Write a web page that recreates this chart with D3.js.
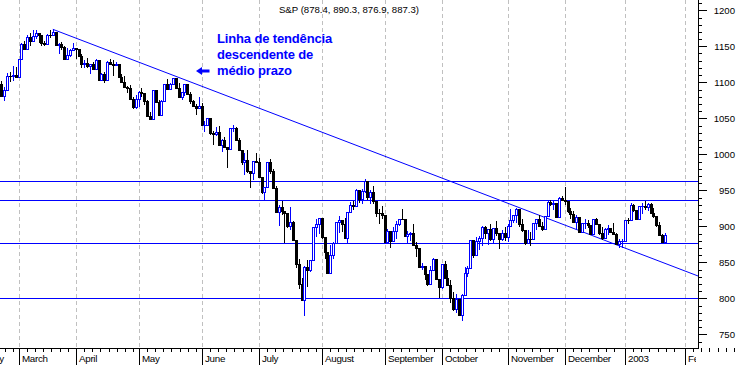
<!DOCTYPE html>
<html><head><meta charset="utf-8">
<script src="https://cdn.jsdelivr.net/npm/d3@7"></script>
<style>
body{margin:0;background:#fff}
svg{display:block;font-family:Arial,"Liberation Sans",sans-serif}
</style>
</head><body>
<svg id="chart" width="738" height="365"></svg>
<script>
// ---------- DATA ----------
const dates = [
"2002-02-21","2002-02-22","2002-02-25","2002-02-26","2002-02-27","2002-02-28",
"2002-03-01","2002-03-04","2002-03-05","2002-03-06","2002-03-07","2002-03-08","2002-03-11","2002-03-12","2002-03-13","2002-03-14","2002-03-15","2002-03-18","2002-03-19","2002-03-20","2002-03-21","2002-03-22","2002-03-25","2002-03-26","2002-03-27","2002-03-28",
"2002-04-01","2002-04-02","2002-04-03","2002-04-04","2002-04-05","2002-04-08","2002-04-09","2002-04-10","2002-04-11","2002-04-12","2002-04-15","2002-04-16","2002-04-17","2002-04-18","2002-04-19","2002-04-22","2002-04-23","2002-04-24","2002-04-25","2002-04-26","2002-04-29","2002-04-30",
"2002-05-01","2002-05-02","2002-05-03","2002-05-06","2002-05-07","2002-05-08","2002-05-09","2002-05-10","2002-05-13","2002-05-14","2002-05-15","2002-05-16","2002-05-17","2002-05-20","2002-05-21","2002-05-22","2002-05-23","2002-05-24","2002-05-28","2002-05-29","2002-05-30","2002-05-31",
"2002-06-03","2002-06-04","2002-06-05","2002-06-06","2002-06-07","2002-06-10","2002-06-11","2002-06-12","2002-06-13","2002-06-14","2002-06-17","2002-06-18","2002-06-19","2002-06-20","2002-06-21","2002-06-24","2002-06-25","2002-06-26","2002-06-27","2002-06-28",
"2002-07-01","2002-07-02","2002-07-03","2002-07-05","2002-07-08","2002-07-09","2002-07-10","2002-07-11","2002-07-12","2002-07-15","2002-07-16","2002-07-17","2002-07-18","2002-07-19","2002-07-22","2002-07-23","2002-07-24","2002-07-25","2002-07-26","2002-07-29","2002-07-30","2002-07-31",
"2002-08-01","2002-08-02","2002-08-05","2002-08-06","2002-08-07","2002-08-08","2002-08-09","2002-08-12","2002-08-13","2002-08-14","2002-08-15","2002-08-16","2002-08-19","2002-08-20","2002-08-21","2002-08-22","2002-08-23","2002-08-26","2002-08-27","2002-08-28","2002-08-29","2002-08-30",
"2002-09-03","2002-09-04","2002-09-05","2002-09-06","2002-09-09","2002-09-10","2002-09-11","2002-09-12","2002-09-13","2002-09-16","2002-09-17","2002-09-18","2002-09-19","2002-09-20","2002-09-23","2002-09-24","2002-09-25","2002-09-26","2002-09-27","2002-09-30",
"2002-10-01","2002-10-02","2002-10-03","2002-10-04","2002-10-07","2002-10-08","2002-10-09","2002-10-10","2002-10-11","2002-10-14","2002-10-15","2002-10-16","2002-10-17","2002-10-18","2002-10-21","2002-10-22","2002-10-23","2002-10-24","2002-10-25","2002-10-28","2002-10-29","2002-10-30","2002-10-31",
"2002-11-01","2002-11-04","2002-11-05","2002-11-06","2002-11-07","2002-11-08","2002-11-11","2002-11-12","2002-11-13","2002-11-14","2002-11-15","2002-11-18","2002-11-19","2002-11-20","2002-11-21","2002-11-22","2002-11-25","2002-11-26","2002-11-27","2002-11-29",
"2002-12-02","2002-12-03","2002-12-04","2002-12-05","2002-12-06","2002-12-09","2002-12-10","2002-12-11","2002-12-12","2002-12-13","2002-12-16","2002-12-17","2002-12-18","2002-12-19","2002-12-20","2002-12-23","2002-12-24","2002-12-26","2002-12-27","2002-12-30","2002-12-31",
"2003-01-02","2003-01-03","2003-01-06","2003-01-07","2003-01-08","2003-01-09","2003-01-10","2003-01-13","2003-01-14","2003-01-15","2003-01-16","2003-01-17","2003-01-21","2003-01-22","2003-01-23"
];
const openV = [
1097.98,1080.95,1089.84,1109.43,1109.38,1109.89,
1106.73,1131.78,1153.84,1146.14,1162.77,1157.54,1164.31,1168.26,1165.58,1154.09,1153.04,1166.16,1165.55,1170.29,1151.85,1153.59,1148.70,1131.87,1138.49,1144.58,
1147.39,1146.54,1136.76,1125.40,1126.34,1122.73,1125.29,1117.80,1130.47,1103.69,1111.01,1102.55,1128.37,1126.07,1124.47,1125.17,1107.83,1100.96,1093.14,1091.48,1076.32,1065.45,
1076.92,1086.46,1084.56,1073.43,1052.67,1049.49,1088.85,1073.01,1054.99,1074.56,1097.28,1091.07,1098.23,1106.59,1091.88,1079.88,1086.02,1097.08,1083.82,1074.55,1067.66,1064.66,
1067.14,1040.68,1040.69,1049.90,1029.15,1027.53,1030.74,1013.60,1020.26,1009.56,1007.27,1036.17,1037.14,1019.99,1006.29,989.14,992.72,976.14,973.53,990.64,
989.82,968.65,948.09,953.99,989.03,976.98,952.83,920.47,927.37,921.39,917.93,900.94,906.04,881.56,847.75,819.85,797.70,843.43,838.68,852.84,898.96,902.78,
911.62,884.66,864.24,834.60,859.57,876.77,905.46,908.64,903.80,884.21,919.62,930.25,928.77,950.70,937.43,949.36,962.70,940.86,947.95,934.82,917.87,917.80,
916.07,878.02,893.40,879.15,893.92,902.96,909.58,909.45,886.91,889.81,891.10,873.52,869.46,843.32,845.39,833.70,819.29,839.66,854.95,827.37,
815.28,847.91,827.91,818.95,800.58,785.28,798.55,776.76,803.92,835.32,841.44,881.27,860.02,879.20,884.39,899.72,890.16,896.14,882.50,897.65,890.23,882.15,890.71,
885.76,900.96,908.35,915.39,923.76,902.65,894.74,876.19,882.95,882.53,904.27,909.83,900.36,896.74,914.15,933.76,930.55,932.87,913.31,938.87,
936.31,934.53,920.75,917.58,906.55,912.23,892.00,904.45,904.96,901.58,889.48,910.40,902.99,891.12,884.25,895.76,897.38,892.47,889.66,875.40,879.39,
879.82,909.03,908.59,929.01,922.93,909.93,927.57,927.57,926.26,931.66,918.22,914.60,901.78,887.62,878.4
];
const highV = [
1101.5,1093.9,1112.7,1115.0,1123.1,1121.6,
1131.8,1153.9,1157.7,1165.3,1167.9,1172.8,1173.0,1168.3,1165.6,1157.8,1166.5,1172.7,1173.9,1170.3,1155.1,1156.5,1151.0,1147.0,1146.9,1154.5,
1147.8,1146.5,1138.9,1130.5,1133.3,1125.4,1128.3,1131.8,1130.5,1112.8,1114.9,1129.4,1133.0,1130.5,1128.8,1125.2,1111.2,1108.5,1094.4,1096.8,1078.9,1082.6,
1088.3,1091.4,1084.6,1075.9,1058.7,1088.9,1088.9,1075.4,1074.8,1097.7,1104.2,1099.3,1106.6,1106.6,1099.5,1086.1,1097.1,1097.1,1085.9,1074.8,1069.5,1079.9,
1070.7,1046.1,1050.1,1049.9,1033.0,1038.2,1039.0,1021.9,1023.5,1009.6,1036.2,1040.8,1037.6,1023.3,1006.3,1002.1,1005.9,977.4,990.7,1001.8,
994.5,968.7,954.3,989.1,993.6,979.6,956.3,929.2,934.9,921.4,918.7,926.5,907.8,881.6,854.1,827.7,844.3,853.8,852.9,899.0,909.8,911.7,
911.7,884.7,864.3,874.4,878.7,905.8,913.9,908.7,911.7,920.2,933.3,935.4,951.2,950.7,951.2,965.0,962.7,950.8,955.8,934.9,924.6,928.2,
916.1,896.1,893.4,899.1,907.3,909.9,924.0,909.5,892.8,891.8,902.7,878.5,869.5,849.3,845.4,833.7,844.2,856.6,855.0,827.4,
848.0,851.9,840.0,825.9,808.2,806.5,798.6,806.5,843.3,844.4,881.3,881.3,885.4,886.7,900.7,899.8,896.3,902.9,897.7,907.4,890.6,895.3,898.8,
903.4,924.6,915.8,925.7,923.8,910.1,894.8,894.3,892.5,904.3,910.1,915.9,905.5,915.0,935.1,937.2,937.2,932.9,940.4,941.8,
954.3,934.6,925.3,921.5,915.5,912.3,905.0,909.9,908.4,901.6,910.4,911.2,903.0,899.2,897.8,902.4,897.4,903.9,890.5,882.1,881.9,
909.1,911.3,931.8,930.8,923.0,928.3,932.9,935.0,931.7,932.6,926.0,914.6,906.0,889.7,890.3
];
const lowV = [
1080.2,1074.4,1089.8,1101.0,1102.3,1106.7,
1106.7,1130.9,1144.8,1145.1,1150.7,1157.5,1159.6,1155.0,1151.0,1151.0,1153.0,1161.3,1165.5,1151.6,1139.5,1144.6,1131.8,1131.6,1135.3,1144.5,
1132.9,1135.7,1119.7,1120.1,1119.5,1111.8,1116.7,1117.8,1102.4,1103.6,1099.4,1102.5,1123.4,1109.3,1122.6,1105.6,1098.9,1092.5,1084.8,1076.3,1063.6,1063.5,
1065.3,1079.5,1068.5,1052.6,1048.9,1049.4,1072.2,1053.9,1053.9,1074.5,1088.9,1089.2,1096.8,1090.6,1079.1,1075.6,1080.6,1082.2,1070.3,1067.6,1054.3,1064.6,
1039.9,1030.5,1038.8,1026.9,1012.5,1025.5,1011.6,1002.6,1008.1,981.6,1007.2,1030.9,1017.9,1004.6,985.7,970.9,974.2,952.9,963.7,988.3,
967.4,945.5,934.9,953.9,972.9,951.7,920.3,900.9,915.9,876.5,897.1,895.0,880.6,842.1,813.3,796.1,775.7,816.1,835.9,852.7,884.7,889.9,
882.5,853.9,833.4,834.6,854.1,875.2,890.8,892.4,883.6,876.2,918.2,922.0,928.7,931.9,931.4,946.4,937.2,930.4,930.4,913.2,903.3,910.2,
877.5,875.7,870.5,879.1,882.9,900.5,908.5,884.8,877.0,879.3,872.4,857.4,843.1,839.1,825.8,817.4,818.5,839.6,826.8,800.2,
812.8,826.3,817.3,794.1,782.9,779.8,775.8,768.6,803.9,828.9,841.4,856.3,860.0,866.6,873.1,882.4,873.8,879.0,877.0,886.2,867.9,879.2,879.8,
877.7,900.9,904.9,905.0,898.7,891.6,874.6,876.1,872.1,882.5,895.4,899.5,893.1,894.9,914.1,928.4,923.3,912.1,913.3,935.6,
929.5,918.7,909.5,905.9,895.9,891.9,892.0,896.5,897.0,887.8,889.4,901.7,887.8,880.3,884.2,887.5,892.3,887.5,873.6,870.2,869.5,
879.8,903.1,908.5,919.9,908.3,909.9,917.7,922.1,921.7,916.7,911.9,899.0,887.6,877.6,876.9
];
const closeV = [
1080.95,1089.84,1109.43,1109.38,1109.89,1106.73,
1131.78,1153.84,1146.14,1162.77,1157.54,1164.31,1168.26,1165.58,1154.09,1153.04,1166.16,1165.55,1170.29,1151.85,1153.59,1148.70,1131.87,1138.49,1144.58,1147.39,
1146.54,1136.76,1125.40,1126.34,1122.73,1125.29,1117.80,1130.47,1103.69,1111.01,1102.55,1128.37,1126.07,1124.47,1125.17,1107.83,1100.96,1093.14,1091.48,1076.32,1065.45,1076.92,
1086.46,1084.56,1073.43,1052.67,1049.49,1088.85,1073.01,1054.99,1074.56,1097.28,1091.07,1098.23,1106.59,1091.88,1079.88,1086.02,1097.08,1083.82,1074.55,1067.66,1064.66,1067.14,
1040.68,1040.69,1049.90,1029.15,1027.53,1030.74,1013.60,1020.26,1009.56,1007.27,1036.17,1037.14,1019.99,1006.29,989.14,992.72,976.14,973.53,990.64,989.82,
968.65,948.09,953.99,989.03,976.98,952.83,920.47,927.37,921.39,917.93,900.94,906.04,881.56,847.75,819.85,797.70,843.43,838.68,852.84,898.96,902.78,911.62,
884.66,864.24,834.60,859.57,876.77,905.46,908.64,903.80,884.21,919.62,930.25,928.77,950.70,937.43,949.36,962.70,940.86,947.95,934.82,917.87,917.80,916.07,
878.02,893.40,879.15,893.92,902.96,909.58,909.45,886.91,889.81,891.10,873.52,869.46,843.32,845.39,833.70,819.29,839.66,854.95,827.37,815.28,
847.91,827.91,818.95,800.58,785.28,798.55,776.76,803.92,835.32,841.44,881.27,860.02,879.20,884.39,899.72,890.16,896.14,882.50,897.65,890.23,882.15,890.71,885.76,
900.96,908.35,915.39,923.76,902.65,894.74,876.19,882.95,882.53,904.27,909.83,900.36,896.74,914.15,933.76,930.55,932.87,913.31,938.87,936.31,
934.53,920.75,917.58,906.55,912.23,892.00,904.45,904.96,901.58,889.48,910.40,902.99,891.12,884.25,895.76,897.38,892.47,889.66,875.40,879.39,879.82,
909.03,908.59,929.01,922.93,909.93,927.57,927.57,926.26,931.66,918.22,914.60,901.78,887.62,878.36,887.3
];

// month axis (trading-day index of each month's first session)
const monthLabels = ["February","March","April","May","June","July","August","September","October","November","December","2003","February"];
const monthStartDay = [-13,6,26,48,70,90,112,134,154,177,197,218,239];

// horizontal support / resistance levels
const levels = [963, 936, 877, 800];
// descending trend line: [trading-day index, price]
const trendDay = [18, 243.6];
const trendPrice = [1173.6, 831];

// axis ticks
const majorTicks = [750,800,850,900,950,1000,1050,1100,1150,1200];
const minorTicks = d3.range(740, 1220, 10);

const titleText = "S&P (" + [openV, highV, lowV, closeV].map(a => a[a.length-1].toFixed(1)).join(", ") + ")";
const noteLines = ["Linha de tendência", "descendente de", "médio prazo"];

// ---------- CHART ----------
const svg = d3.select("#chart");
const AX = 698, AY = 348;
const x = d3.scaleLinear().domain([-0.47, 243.6]).range([0, AX]);
const y = d3.scaleLinear().domain([750, 1200]).range([334.3, 10.3]);
const BLUE = "#0000ff";

// vertical dashed month gridlines
svg.append("g").selectAll("line").data(monthStartDay).join("line")
  .attr("x1", d => Math.round(x(d)) + 0.5).attr("x2", d => Math.round(x(d)) + 0.5)
  .attr("y1", 0).attr("y2", AY)
  .attr("stroke", "#c0c0c0").attr("stroke-width", 1).attr("stroke-dasharray", "4,3");

// horizontal levels
svg.append("g").attr("shape-rendering", "crispEdges").selectAll("line").data(levels).join("line")
  .attr("x1", 0).attr("x2", AX)
  .attr("y1", d => Math.round(y(d)) + 0.5).attr("y2", d => Math.round(y(d)) + 0.5)
  .attr("stroke", BLUE).attr("stroke-width", 1.4);

// trend line
svg.append("line")
  .attr("x1", x(trendDay[0])).attr("y1", y(trendPrice[0]))
  .attr("x2", x(trendDay[1])).attr("y2", y(trendPrice[1]))
  .attr("stroke", BLUE).attr("stroke-width", 1);

// candles
const candles = dates.map((d, i) => ({i, o: openV[i], h: highV[i], l: lowV[i], c: closeV[i]}));
const cg = svg.append("g").attr("shape-rendering", "crispEdges");
candles.forEach(d => {
  const cx = Math.round(x(d.i));
  const up = d.c >= d.o;
  const col = up ? BLUE : "#000";
  const yh = Math.round(y(d.h)), yl = Math.round(y(d.l));
  const yt = Math.round(y(Math.max(d.o, d.c))), yb = Math.round(y(Math.min(d.o, d.c)));
  cg.append("rect").attr("x", cx).attr("y", yh).attr("width", 1).attr("height", Math.max(1, yl - yh)).attr("fill", col);
  if (up) {
    const hgt = yb - yt;
    if (hgt >= 2) {
      cg.append("rect").attr("x", cx - 1).attr("y", yt).attr("width", 3).attr("height", hgt + 1).attr("fill", BLUE);
      cg.append("rect").attr("x", cx).attr("y", yt + 1).attr("width", 1).attr("height", hgt - 1).attr("fill", "#fff");
    } else {
      cg.append("rect").attr("x", cx - 1).attr("y", yt).attr("width", 3).attr("height", Math.max(1, hgt + 1)).attr("fill", BLUE);
    }
  } else {
    cg.append("rect").attr("x", cx - 1).attr("y", yt).attr("width", 3).attr("height", Math.max(1, yb - yt + 1)).attr("fill", "#000");
  }
});

// right axis
const ra = svg.append("g").attr("transform", `translate(${AX},0)`);
ra.append("line").attr("x1", 0.5).attr("x2", 0.5).attr("y1", 0).attr("y2", AY + 1).attr("stroke", "#000");
ra.append("g").attr("shape-rendering", "crispEdges").selectAll("line").data(minorTicks).join("line")
  .attr("x1", 0).attr("x2", 4).attr("y1", d => Math.round(y(d)) + 0.5).attr("y2", d => Math.round(y(d)) + 0.5).attr("stroke", "#000");
const axisR = d3.axisRight(y).tickValues(majorTicks).tickSize(8).tickSizeOuter(0).tickFormat(d3.format("d"));
const ag = ra.append("g").attr("transform", "translate(0.5,0)").call(axisR);
ag.select(".domain").remove();
ag.selectAll(".tick line").attr("stroke", "#000").attr("shape-rendering", "crispEdges");
ag.selectAll(".tick text").attr("x", 36.5).attr("text-anchor", "end").attr("dy", "0.35em")
  .attr("font-size", 9.6).attr("font-family", "Arial, 'Liberation Sans', sans-serif").attr("fill", "#000");

// bottom axis
const ba = svg.append("g").attr("shape-rendering", "crispEdges");
ba.append("line").attr("x1", 0).attr("x2", AX + 1).attr("y1", AY + 0.5).attr("y2", AY + 0.5).attr("stroke", "#000");
const minorX = [];
monthStartDay.forEach((m, k) => {
  const next = k < monthStartDay.length - 1 ? monthStartDay[k + 1] : m + 21;
  for (let t = m + 2.87; t < next - 1.4; t += 2.87) minorX.push(t);
});
ba.selectAll("line.mt").data(minorX).join("line").attr("class", "mt")
  .attr("x1", d => Math.round(x(d)) + 0.5).attr("x2", d => Math.round(x(d)) + 0.5)
  .attr("y1", AY).attr("y2", AY + 4).attr("stroke", "#000");
ba.selectAll("line.ms").data(monthStartDay).join("line").attr("class", "ms")
  .attr("x1", d => Math.round(x(d)) + 0.5).attr("x2", d => Math.round(x(d)) + 0.5)
  .attr("y1", AY).attr("y2", 365).attr("stroke", "#000");
svg.append("clipPath").attr("id", "mclip").append("rect").attr("x", 0).attr("y", AY).attr("width", AX - 2).attr("height", 20);
svg.append("g").attr("clip-path", "url(#mclip)").selectAll("text").data(monthLabels).join("text")
  .attr("x", (d, k) => Math.round(x(monthStartDay[k])) + 3).attr("y", 362)
  .attr("font-size", 9.8).attr("letter-spacing", -0.3).attr("fill", "#000").text(d => d);

// title
svg.append("text").attr("x", 349).attr("y", 12.5).attr("text-anchor", "middle")
  .attr("font-size", 9.6).attr("fill", "#000").text(titleText);

// annotation
const note = svg.append("g").attr("fill", BLUE).attr("font-size", 13).attr("font-weight", "bold").attr("letter-spacing", -0.15);
note.selectAll("text").data(noteLines).join("text")
  .attr("x", 217).attr("y", (d, k) => 43 + k * 16).text(d => d);
svg.append("path").attr("d", "M196,71 L202,67 L202,69.5 L209.5,69.5 L209.5,72.5 L202,72.5 L202,75 Z").attr("fill", BLUE);
</script>
</body></html>
